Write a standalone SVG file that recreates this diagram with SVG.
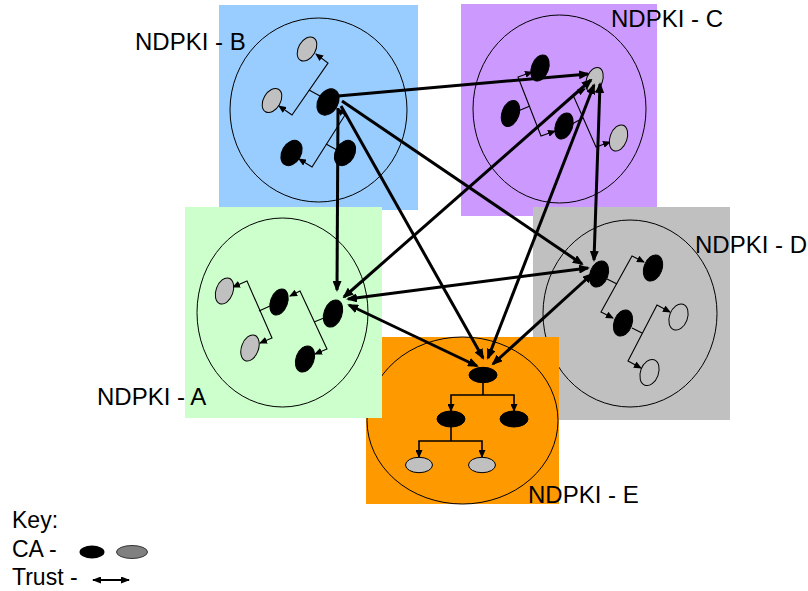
<svg xmlns="http://www.w3.org/2000/svg" width="808" height="591" viewBox="0 0 808 591">
  <style>
    text { font-family: "Liberation Sans", Arial, sans-serif; fill: #000; }
    .lbl { font-size: 24px; }
    .key { font-size: 23px; }
    .ring { fill: none; stroke: #000; stroke-width: 1; }
    .ca { fill: #000; stroke: #000; stroke-width: 1; }
    .ca2 { fill: #C0C0C0; stroke: #000; stroke-width: 1; }
    .link { fill: none; stroke: #000; stroke-width: 1.1; }
    .arr { fill: none; stroke: #000; stroke-width: 1.1; marker-start: url(#sm); marker-end: url(#sm); }
    .earr { fill: none; stroke: #000; stroke-width: 1.6; marker-start: url(#sm); marker-end: url(#sm); }
    .elink { fill: none; stroke: #000; stroke-width: 1.6; }
    .trust { fill: none; stroke: #000; stroke-width: 3; marker-end: url(#big); }
    .trust2 { fill: none; stroke: #000; stroke-width: 3; marker-start: url(#big); marker-end: url(#big); }
  </style>
  <defs>
    <marker id="big" markerUnits="userSpaceOnUse" markerWidth="11" markerHeight="9" refX="9" refY="4.5" orient="auto-start-reverse">
      <path d="M0,0 L11,4.5 L0,9 z" fill="#000"/>
    </marker>
    <marker id="sm" markerUnits="userSpaceOnUse" markerWidth="8" markerHeight="7" refX="7" refY="3.5" orient="auto-start-reverse">
      <path d="M0,0 L8,3.5 L0,7 z" fill="#000"/>
    </marker>
    <marker id="kh" markerUnits="userSpaceOnUse" markerWidth="9" markerHeight="7" refX="8" refY="3.5" orient="auto-start-reverse">
      <path d="M0,0 L9,3.5 L0,7 z" fill="#000"/>
    </marker>
  </defs>

  <!-- NDPKI B -->
  <g id="ndpki-b">
    <rect x="219" y="5" width="199" height="205" fill="#99CCFF"/>
    <ellipse class="ring" cx="318.5" cy="110" rx="88.5" ry="92"/>
    <path class="arr" d="M316,54 L328,63 L292,115 L279,106"/>
    <path class="link" d="M309,90 L320,96"/>
    <path class="arr" d="M337,109 L345,115 L312,167 L299,159"/>
    <path class="link" d="M326,144 L337,150"/>
    <ellipse class="ca2" cx="307" cy="49" rx="8.5" ry="13" transform="rotate(30 307 49)"/>
    <ellipse class="ca2" cx="272" cy="100.5" rx="8.5" ry="13" transform="rotate(30 272 100.5)"/>
    <ellipse class="ca" cx="328" cy="102" rx="10" ry="14" transform="rotate(30 328 102)"/>
    <ellipse class="ca" cx="291.5" cy="153" rx="9.5" ry="13.5" transform="rotate(30 291.5 153)"/>
    <ellipse class="ca" cx="345" cy="153" rx="9.5" ry="13.5" transform="rotate(30 345 153)"/>
    <text class="lbl" x="135" y="50">NDPKI - B</text>
  </g>

  <!-- NDPKI C -->
  <g id="ndpki-c">
    <rect x="461" y="4" width="196" height="212" fill="#CC99FF"/>
    <ellipse class="ring" cx="559.5" cy="109" rx="86.5" ry="94"/>
    <path class="arr" d="M532,72 L518,77 L541,136 L555,131"/>
    <path class="link" d="M518,111 L530,106"/>
    <path class="arr" d="M585,89 L573,95 L596,147 L610,142"/>
    <path class="link" d="M572,124 L583,118"/>
    <ellipse class="ca" cx="540" cy="68" rx="8.5" ry="13.5" transform="rotate(20 540 68)"/>
    <ellipse class="ca2" cx="594.5" cy="80" rx="8" ry="13" transform="rotate(20 594.5 80)"/>
    <ellipse class="ca" cx="510.5" cy="113.5" rx="8.5" ry="13.5" transform="rotate(20 510.5 113.5)"/>
    <ellipse class="ca" cx="564" cy="126" rx="8.5" ry="13.5" transform="rotate(20 564 126)"/>
    <ellipse class="ca2" cx="618.5" cy="138" rx="8.5" ry="13.5" transform="rotate(20 618.5 138)"/>
    <text class="lbl" x="611" y="27">NDPKI - C</text>
  </g>

  <!-- NDPKI D -->
  <g id="ndpki-d">
    <rect x="533" y="207" width="197" height="213" fill="#C0C0C0"/>
    <ellipse class="ring" cx="630" cy="313.5" rx="87" ry="93.5"/>
    <path class="link" d="M607,279 L617,284"/>
    <path class="arr" d="M644,262 L632,256 L601,312 L613,318"/>
    <path class="link" d="M632,328 L642,333"/>
    <path class="arr" d="M670,312 L657,305 L628,361 L641,368"/>
    <ellipse class="ca" cx="599" cy="274" rx="9" ry="13.5" transform="rotate(20 599 274)"/>
    <ellipse class="ca" cx="653" cy="268" rx="9" ry="13.5" transform="rotate(20 653 268)"/>
    <ellipse class="ca" cx="623" cy="323" rx="9" ry="13.5" transform="rotate(20 623 323)"/>
    <ellipse class="ca2" cx="678.5" cy="317" rx="9" ry="13.5" transform="rotate(20 678.5 317)"/>
    <ellipse class="ca2" cx="649.5" cy="372.5" rx="9" ry="13.5" transform="rotate(20 649.5 372.5)"/>
    <text class="lbl" x="695" y="253">NDPKI - D</text>
  </g>

  <!-- NDPKI E -->
  <g id="ndpki-e">
    <rect x="366" y="337" width="193" height="167" fill="#FF9900"/>
    <ellipse class="ring" cx="462.5" cy="420.5" rx="95.5" ry="83.5"/>
    <path class="elink" d="M483,383 L483,395"/>
    <path class="earr" d="M451,411 L451,395 L514,395 L514,411"/>
    <path class="elink" d="M451,427 L451,441"/>
    <path class="earr" d="M419,457 L419,441 L482,441 L482,457"/>
    <ellipse class="ca" cx="483" cy="375" rx="14" ry="7.7"/>
    <ellipse class="ca" cx="451" cy="419" rx="14" ry="8"/>
    <ellipse class="ca" cx="514" cy="419" rx="14" ry="8"/>
    <ellipse class="ca2" cx="419" cy="465" rx="13.5" ry="7.7"/>
    <ellipse class="ca2" cx="482" cy="465" rx="13.5" ry="7.7"/>
    <text class="lbl" x="528" y="503">NDPKI - E</text>
  </g>

  <!-- NDPKI A -->
  <g id="ndpki-a">
    <rect x="185" y="207" width="197" height="211" fill="#CCFFCC"/>
    <ellipse class="ring" cx="282.5" cy="312.5" rx="85.5" ry="94.5"/>
    <path class="arr" d="M233,287 L247,281 L272,338 L260,343"/>
    <path class="link" d="M270,306 L259,311"/>
    <path class="arr" d="M290,296 L300,291 L327,349 L315,354"/>
    <path class="link" d="M324,318 L314,322"/>
    <ellipse class="ca2" cx="224.5" cy="291" rx="8.5" ry="13.5" transform="rotate(20 224.5 291)"/>
    <ellipse class="ca" cx="279" cy="302" rx="8.5" ry="13.5" transform="rotate(20 279 302)"/>
    <ellipse class="ca" cx="333" cy="313.5" rx="9" ry="14" transform="rotate(20 333 313.5)"/>
    <ellipse class="ca2" cx="250" cy="348" rx="8.5" ry="13.5" transform="rotate(20 250 348)"/>
    <ellipse class="ca" cx="305" cy="359" rx="9" ry="13.5" transform="rotate(20 305 359)"/>
    <text class="lbl" x="97" y="405">NDPKI - A</text>
  </g>

  <!-- trust relations between the domains -->
  <g id="connectors">
    <path class="trust" d="M338,96 L588,74"/>
    <path class="trust" d="M338,108 L337,290"/>
    <path class="trust" d="M341,106 L483,358"/>
    <path class="trust" d="M342,101 L582,264"/>
    <path class="trust2" d="M591,80 L344,297"/>
    <path class="trust2" d="M594,85 L488,358"/>
    <path class="trust2" d="M600,84 L594,260"/>
    <path class="trust2" d="M588,268 L348,299"/>
    <path class="trust2" d="M592,274 L493,364"/>
    <path class="trust2" d="M349,305 L477,366"/>
  </g>

  <!-- legend -->
  <g id="key">
    <text class="key" x="12" y="528">Key:</text>
    <text class="key" x="12" y="557">CA -</text>
    <text class="key" x="12" y="585">Trust -</text>
    <ellipse cx="92" cy="552" rx="12.5" ry="6.5" fill="#000"/>
    <ellipse cx="132" cy="552" rx="15.5" ry="6.5" fill="#808080" stroke="#333" stroke-width="1"/>
    <path d="M93,580 L129,580" fill="none" stroke="#000" stroke-width="2" marker-start="url(#kh)" marker-end="url(#kh)"/>
  </g>
</svg>
